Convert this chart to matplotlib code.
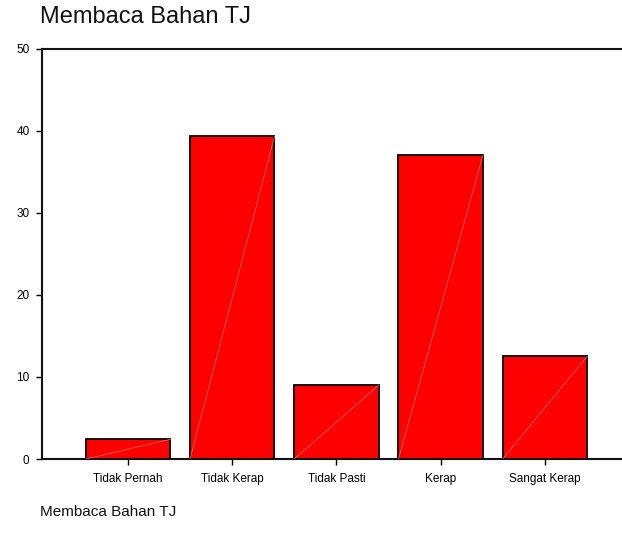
import matplotlib
matplotlib.use('Agg')
import matplotlib.pyplot as plt
import numpy as np

plt.rcParams['font.family'] = ['Liberation Sans', 'DejaVu Sans']

categories = ['Tidak Pernah', 'Tidak Kerap', 'Tidak Pasti', 'Kerap', 'Sangat Kerap']
percent = [2.4, 39.3, 9.0, 37.0, 12.5]
y_ticks = [0, 10, 20, 30, 40, 50]
title = 'Membaca Bahan TJ'


def show_chart():
    fig = plt.figure(figsize=(6.22, 5.4), dpi=100)
    ax = fig.add_axes([0.0675, 0.15, 0.9325, 0.76])
    x = np.arange(len(categories))
    width = 0.81
    ax.bar(x, percent, width, color='#ff0000', edgecolor='black', linewidth=1.3, zorder=2)
    # faint diagonal inside each bar, corner to corner
    for xi, v in zip(x, percent):
        ax.plot([xi - width / 2, xi + width / 2], [0, v], color='#ff7070', linewidth=0.5, zorder=3)

    ax.set_xlim(-0.826, 4.74)
    ax.set_ylim(0, 50)
    ax.set_yticks(y_ticks)
    ax.set_xticks(x)
    ax.set_xticklabels(categories)
    ax.tick_params(axis='both', labelsize=8.5, direction='out', length=4, width=1, pad=5, colors='black')
    ax.tick_params(axis='x', pad=6)

    for side in ['left', 'bottom', 'top']:
        ax.spines[side].set_linewidth(1.5)
        ax.spines[side].set_color('#111111')
    ax.spines['right'].set_visible(False)

    fig.text(0.064, 0.968, title, fontsize=17, ha='left', va='center', color='#111111')
    fig.text(0.064, 0.052, title, fontsize=11, ha='left', va='center', color='#111111')

    fig.savefig('out.png', dpi=100)


if __name__ == '__main__':
    show_chart()
